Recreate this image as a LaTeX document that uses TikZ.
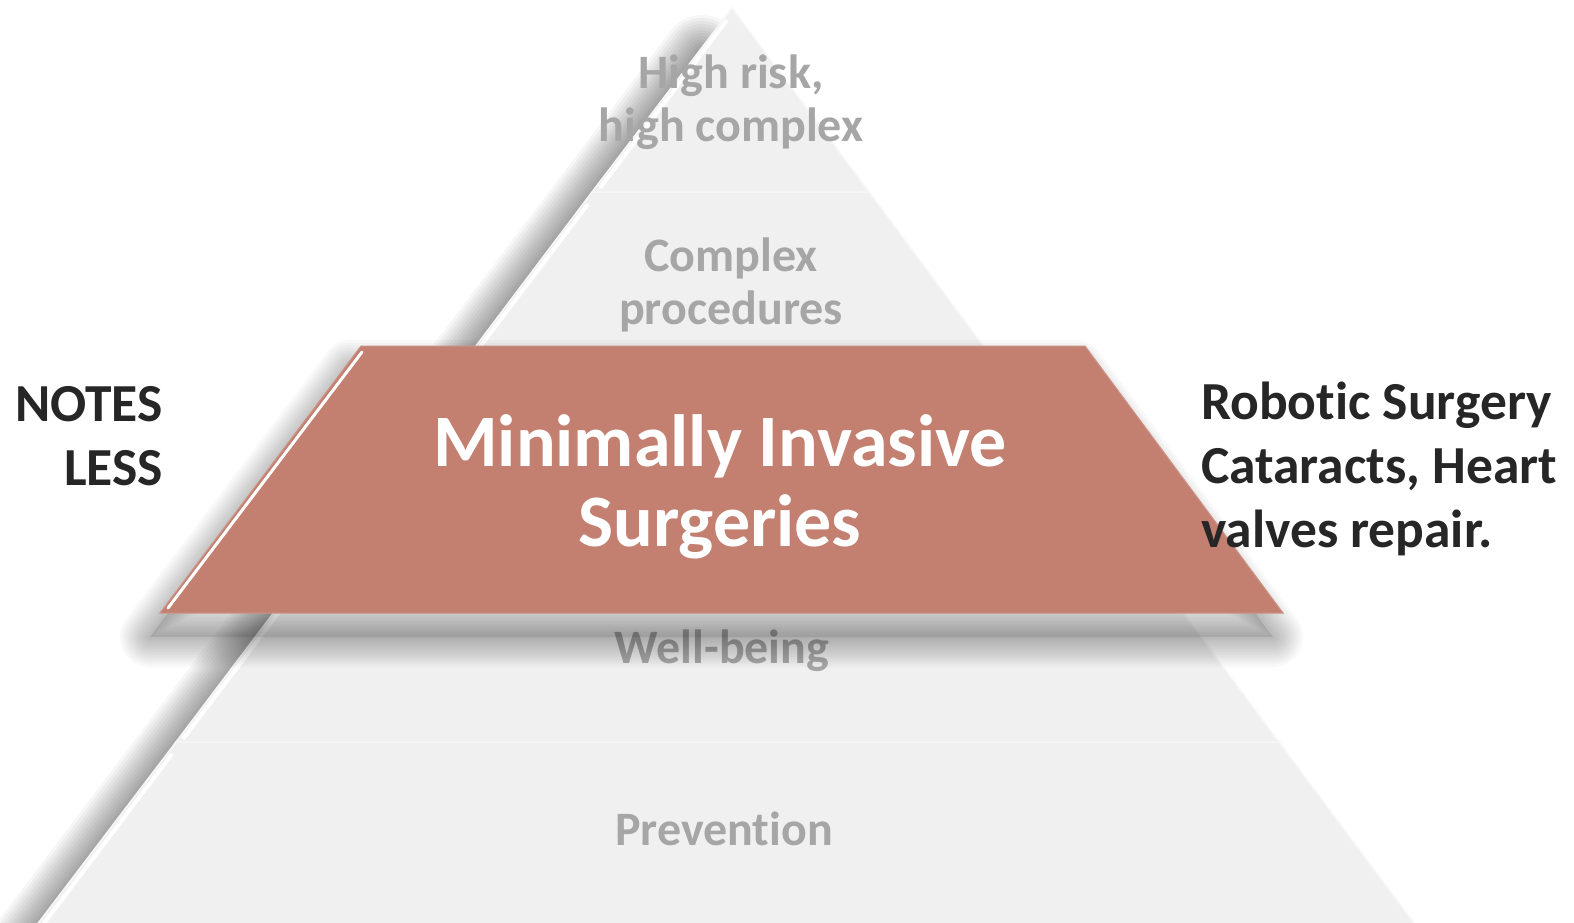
\documentclass[tikz,border=0pt]{standalone}
\usepackage{fontspec}
\setmainfont{Carlito}[Ligatures=NoCommon]
\definecolor{tierfill}{HTML}{F0F0F0}
\definecolor{tierline}{HTML}{F7F7F7}
\definecolor{tiertext}{HTML}{A6A6A6}
\definecolor{trapfill}{HTML}{C38071}
\definecolor{sidetext}{HTML}{262626}
\begin{document}
\begin{tikzpicture}[x=1pt,y=-1pt,
  tier/.style={fill=tierfill, draw=tierline, line width=1.5pt},
  bevel/.style={draw=white, line width=4pt, line cap=butt},
  shadowstroke/.style={draw=black, draw opacity=#1, line join=round, line cap=round},
  trap/.style={fill=trapfill, draw=trapfill!85!white, line width=1pt},
  tiertxt/.style={font=\fontsize{48}{53}\selectfont\bfseries, text=tiertext, align=center, inner sep=0pt},
  sidetxt/.style={font=\fontsize{53.5}{64}\selectfont\bfseries, text=sidetext, inner sep=0pt},
  maintxt/.style={font=\fontsize{74}{80}\selectfont\bfseries, text=white, align=center, inner sep=0pt}]
\clip (0,0) rectangle (1574,923);
\fill[white] (0,0) rectangle (1574,923);
% pyramid shadow along the left edge
\begin{scope}[shift={(-14,4)}]
  \foreach \w in {6,12,...,78}
    \path[shadowstroke=0.034, line width=\w pt] (716,50) -- (36,950);
\end{scope}
% pyramid tiers
\path[tier] (176,742) -- (1279,742) -- (1416,926) -- (36,926) -- cycle;
\path[tier] (315,558) -- (1142,558) -- (1279,742) -- (176,742) -- cycle;
\path[tier] (454,375) -- (1005,375) -- (1142,558) -- (315,558) -- cycle;
\path[tier] (592,192) -- (869,192) -- (1005,375) -- (454,375) -- cycle;
\path[tier] (732,8) -- (869,192) -- (592,192) -- cycle;
% bevel highlights on left edges
\draw[bevel] (727,20) -- (600,188);
\draw[bevel] (588,204) -- (461,372);
\draw[bevel] (449,387) -- (322,555);
\draw[bevel] (311,570) -- (183,739);
\draw[bevel] (172,754) -- (42,926);
% tier labels
\node[tiertxt] (t1) at (731,102) {High risk,\\high complex};
\node[tiertxt] (t2) at (731,285) {Complex\\procedures};
\node[tiertxt] (t4) at (722,651) {Well-being};
\node[tiertxt] (t5) at (724,829) {Prevention};
% popped-out tier: shadow
\begin{scope}[shift={(-10,24)}]
  \fill[black, fill opacity=0.09] (361,346) -- (1085,346) -- (1283,613) -- (160,613) -- cycle;
  \foreach \w in {5,10,...,64}
    \path[shadowstroke=0.024, line width=\w pt] (361,346) -- (1085,346) -- (1283,613) -- (160,613) -- cycle;
\end{scope}
\path[trap] (361,346) -- (1085,346) -- (1283,613) -- (160,613) -- cycle;
\draw[bevel, line width=3pt, line cap=round] (362,352) -- (168,608);
\node[maintxt] (main) at (720,487) {Minimally Invasive\\Surgeries};
% side texts
\node[sidetxt, anchor=east, align=right] (left) at (163,436) {NOTES\\LESS};
\node[sidetxt, anchor=west, align=left] (right) at (1201,469) {Robotic Surgery\\Cataracts, Heart\\valves repair.};
\end{tikzpicture}
\end{document}
